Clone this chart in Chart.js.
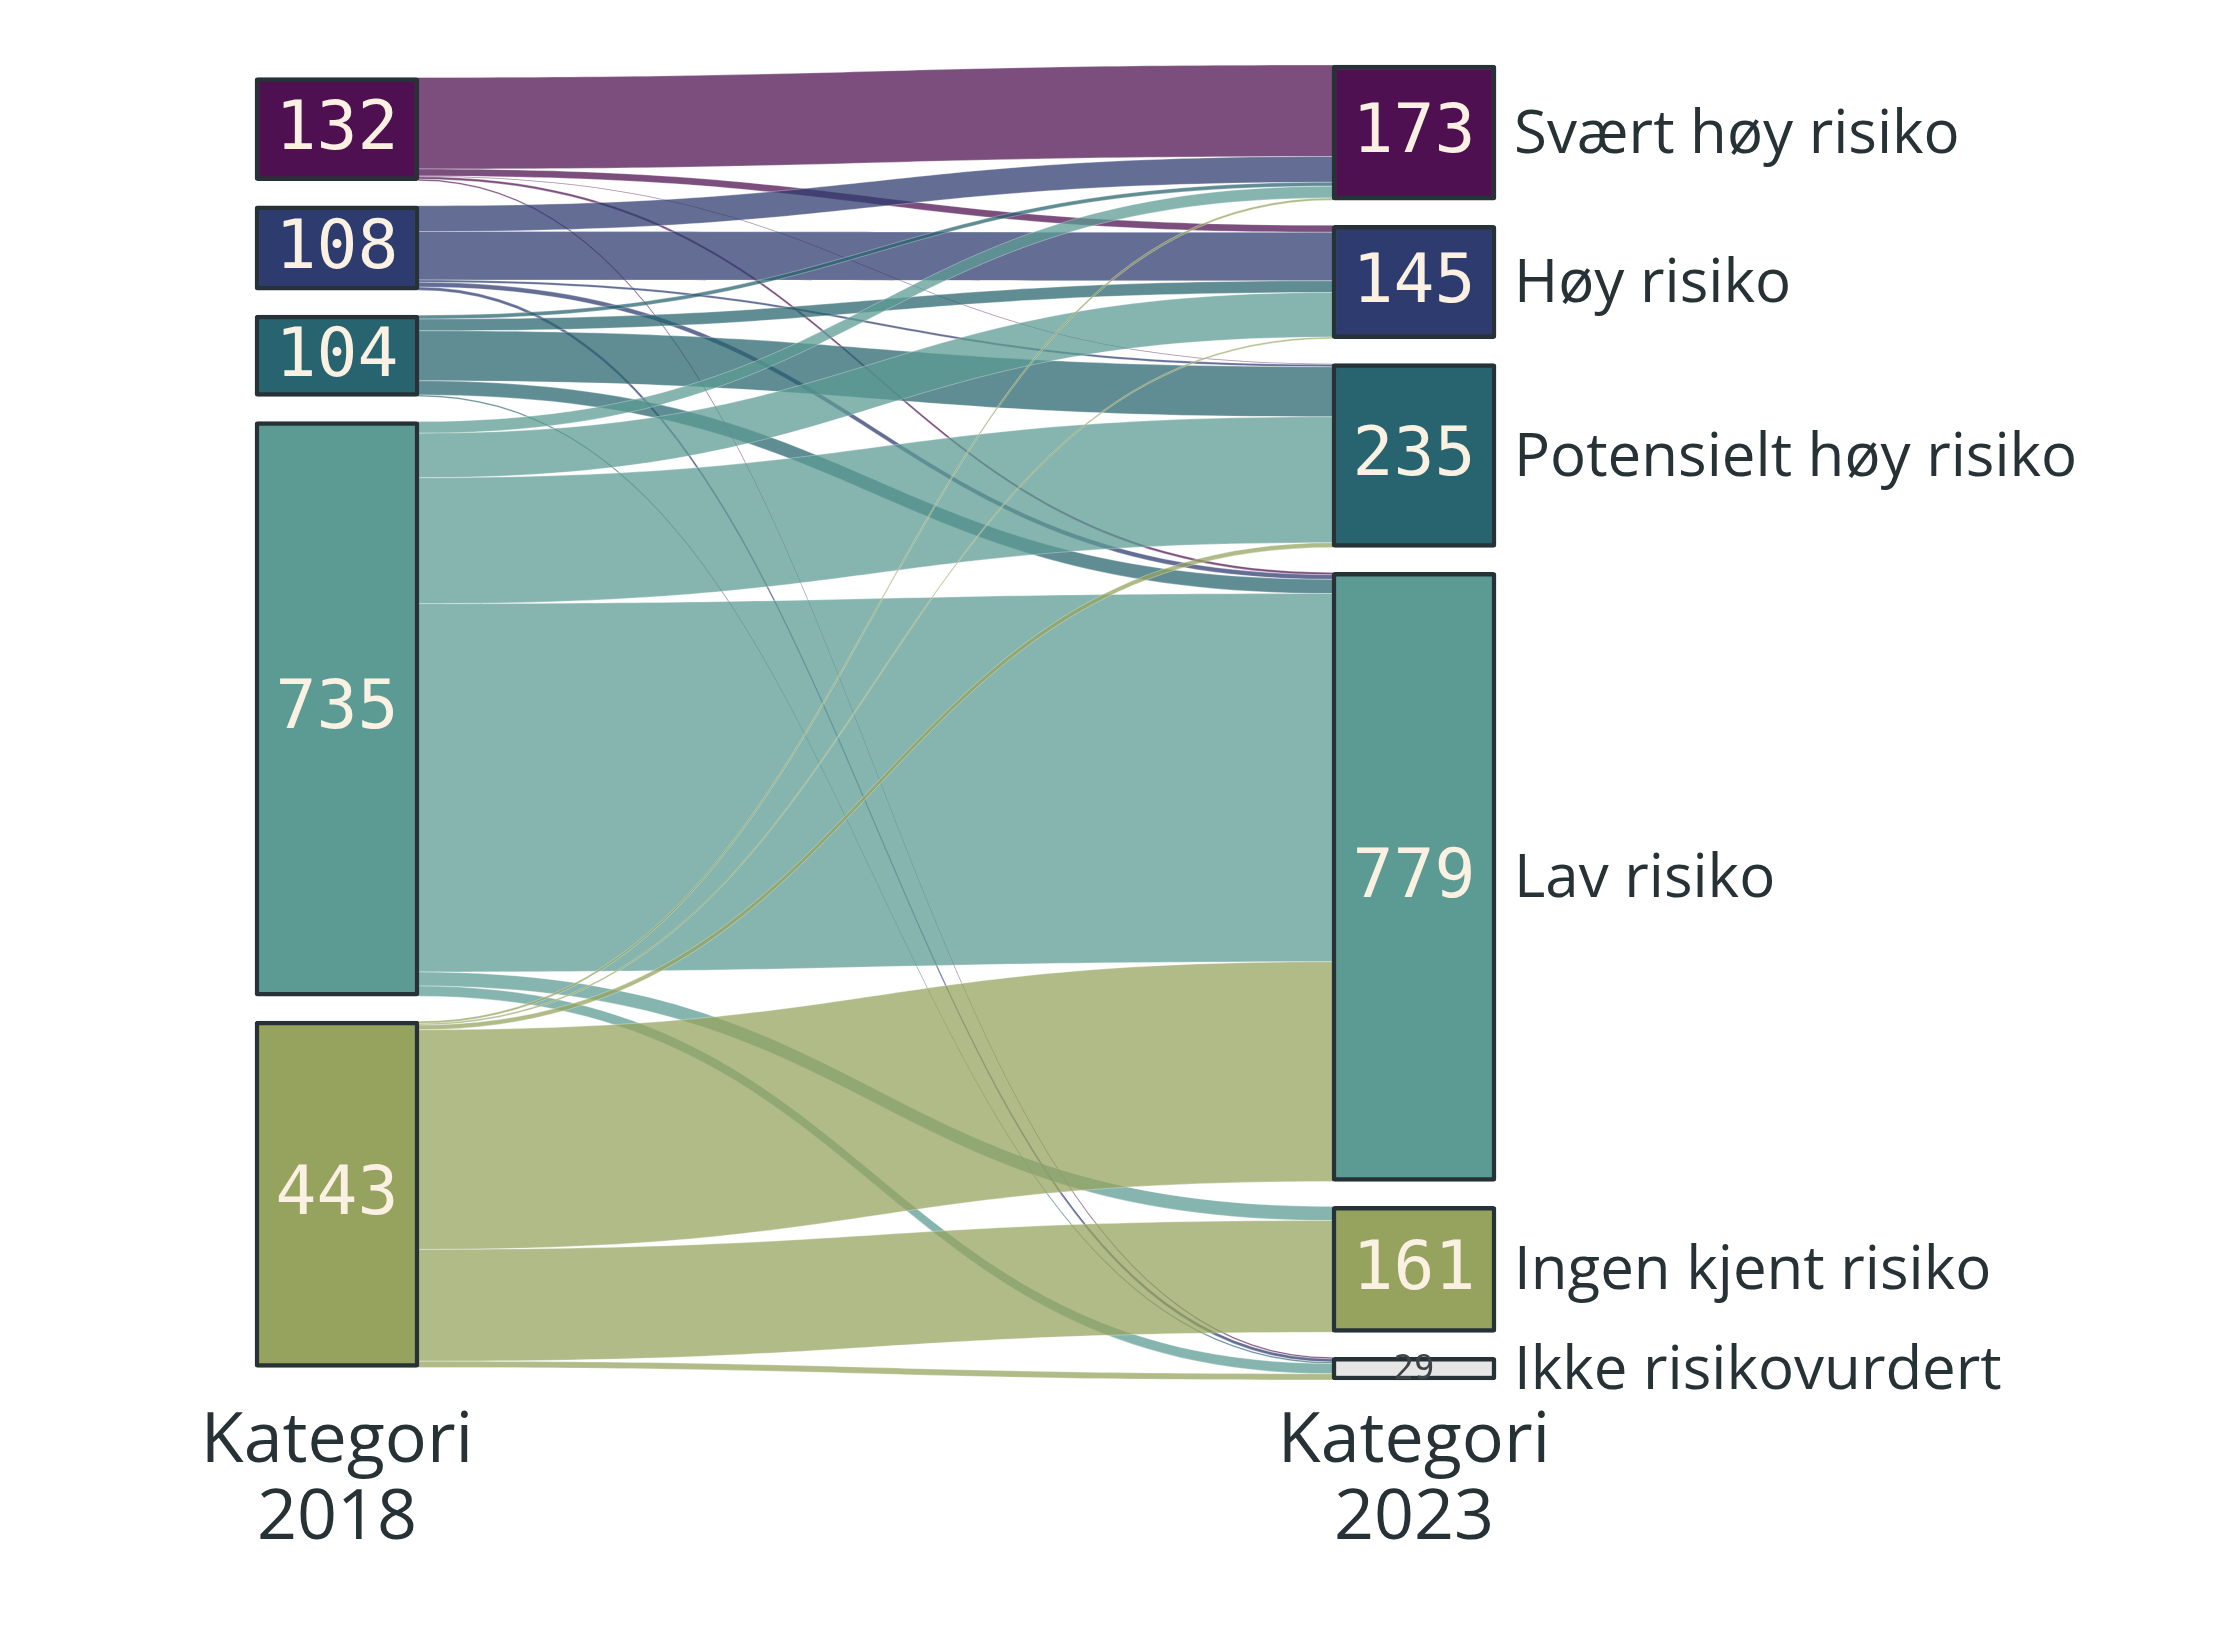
<!DOCTYPE html>
<html>
<head>
<meta charset="utf-8">
<script src="https://cdn.jsdelivr.net/npm/chart.js@4.4.1/dist/chart.umd.min.js"></script>
<style>
  html, body { margin: 0; padding: 0; background: #ffffff; }
  #wrap { width: 2214px; height: 1629px; position: relative; }
</style>
</head>
<body>
<div id="wrap"><canvas id="sankey-risiko"></canvas></div>

<script>
// categories
var kategorier2018 = ['Svært høy risiko', 'Høy risiko', 'Potensielt høy risiko', 'Lav risiko', 'Ingen kjent risiko']
var kategorier2023 = ['Svært høy risiko', 'Høy risiko', 'Potensielt høy risiko', 'Lav risiko', 'Ingen kjent risiko', 'Ikke risikovurdert']
var kolonneTitler = [['Kategori', '2018'], ['Kategori', '2023']]

// flows from each 2018 category, in the order of kategorier2023
var fraSvaertHoy   = [117, 9, 1, 3, 0, 2]
var fraHoy         = [33, 62, 3, 6, 0, 4]
var fraPotensielt  = [5, 15, 64, 18, 0, 2]
var fraLav         = [15, 57, 161, 471, 18, 13]
var fraIngen       = [3, 2, 6, 281, 143, 8]

var nodeFarger = ['#4e1050', '#2e3b6f', '#28646f', '#5c9b93', '#96a35f', '#e6e6e6']

var flows = [fraSvaertHoy, fraHoy, fraPotensielt, fraLav, fraIngen]

// node sizes come from the flows
function sum(a) { return a.reduce(function (s, v) { return s + v }, 0) }
var venstreSum = flows.map(sum)
var hoyreSum = kategorier2023.map(function (_, j) { return sum(flows.map(function (r) { return r[j] })) })

var gap = 32
var total = sum(venstreSum)
var yMax = total + gap * (kategorier2023.length - 1)
var half = 0.0752 // half node width in x units

function stack(totals) {
    var h = sum(totals) + gap * (totals.length - 1)
    var y = (yMax - h) / 2
    return totals.map(function (v) {
        var n = { y0: y, y1: y + v, v: v }
        y += v + gap
        return n
    })
}
var venstre = stack(venstreSum)
var hoyre = stack(hoyreSum)

function rgba(hex, a) {
    var r = parseInt(hex.slice(1, 3), 16), g = parseInt(hex.slice(3, 5), 16), b = parseInt(hex.slice(5, 7), 16)
    return 'rgba(' + r + ',' + g + ',' + b + ',' + a + ')'
}

var nodeData = venstre.map(function (n) { return { x: 0, y: [n.y0, n.y1] } })
    .concat(hoyre.map(function (n) { return { x: 1, y: [n.y0, n.y1] } }))
var nodeColors = venstre.map(function (_, i) { return nodeFarger[i] })
    .concat(hoyre.map(function (_, j) { return nodeFarger[j] }))

var textColor = '#263236'

var sankeyLinks = {
    id: 'sankeyLinks',
    beforeDatasetsDraw: function (chart) {
        var ctx = chart.ctx, x = chart.scales.x, y = chart.scales.y
        var xa = x.getPixelForValue(half), xb = x.getPixelForValue(1 - half), xm = (xa + xb) / 2
        var srcOff = venstre.map(function (n) { return n.y0 })
        var tgtOff = hoyre.map(function (n) { return n.y0 })
        ctx.save()
        flows.forEach(function (row, i) {
            row.forEach(function (v, j) {
                if (!v) return
                var ys0 = y.getPixelForValue(srcOff[i]), ys1 = y.getPixelForValue(srcOff[i] + v)
                var yt0 = y.getPixelForValue(tgtOff[j]), yt1 = y.getPixelForValue(tgtOff[j] + v)
                srcOff[i] += v
                tgtOff[j] += v
                ctx.beginPath()
                ctx.moveTo(xa, ys0)
                ctx.bezierCurveTo(xm, ys0, xm, yt0, xb, yt0)
                ctx.lineTo(xb, yt1)
                ctx.bezierCurveTo(xm, yt1, xm, ys1, xa, ys1)
                ctx.closePath()
                ctx.fillStyle = rgba(nodeFarger[i], 0.74)
                ctx.fill()
                ctx.lineWidth = 1
                ctx.strokeStyle = 'rgba(255,255,255,0.3)'
                ctx.stroke()
            })
        })
        ctx.restore()
    }
}

var sankeyLabels = {
    id: 'sankeyLabels',
    afterDatasetsDraw: function (chart) {
        var ctx = chart.ctx, x = chart.scales.x, y = chart.scales.y
        ctx.save()
        ctx.textBaseline = 'middle'
        ctx.textAlign = 'center'
        function verdi(n, xc, last) {
            var yc = (y.getPixelForValue(n.y0) + y.getPixelForValue(n.y1)) / 2
            if (last) {
                ctx.font = '34px "DejaVu Sans Mono"'
                ctx.fillStyle = '#3c4448'
            } else {
                ctx.font = '68px "DejaVu Sans Mono"'
                ctx.fillStyle = '#fbf1e3'
            }
            ctx.fillText(String(n.v), xc, yc + 2)
        }
        venstre.forEach(function (n) { verdi(n, x.getPixelForValue(0), false) })
        hoyre.forEach(function (n, j) { verdi(n, x.getPixelForValue(1), j === hoyre.length - 1) })

        // category names right of the 2023 column
        ctx.textAlign = 'left'
        ctx.font = '60px "Open Sans"'
        ctx.fillStyle = textColor
        var xl = x.getPixelForValue(1 + half) + 19
        hoyre.forEach(function (n, j) {
            var yc = (y.getPixelForValue(n.y0) + y.getPixelForValue(n.y1)) / 2
            ctx.fillText(kategorier2023[j], xl, yc + 3)
        })

        // column titles
        ctx.textAlign = 'center'
        ctx.textBaseline = 'alphabetic'
        ctx.font = '70px "Open Sans"'
        kolonneTitler.forEach(function (lines, k) {
            var xc = x.getPixelForValue(k)
            lines.forEach(function (t, l) {
                ctx.fillText(t, xc, chart.chartArea.bottom + 82 + l * 77)
            })
        })
        ctx.restore()
    }
}

var ctx = document.getElementById('sankey-risiko').getContext('2d')
var chart = new Chart(ctx, {
    type: 'bar',
    data: {
        datasets: [{
            label: 'Kategori',
            data: nodeData,
            backgroundColor: nodeColors,
            borderColor: textColor,
            borderWidth: 4.5,
            borderRadius: 3,
            borderSkipped: false,
            barThickness: 164,
            clip: false
        }]
    },
    options: {
        responsive: true,
        maintainAspectRatio: false,
        animation: false,
        layout: { padding: { left: 256, right: 719, top: 65, bottom: 249 } },
        plugins: { legend: { display: false }, tooltip: { enabled: false } },
        scales: {
            x: { type: 'linear', min: -half, max: 1 + half, offset: false, display: false, grid: { offset: false } },
            y: { type: 'linear', min: 0, max: yMax, reverse: true, display: false }
        }
    },
    plugins: [sankeyLinks, sankeyLabels]
})
</script>
</body>
</html>
